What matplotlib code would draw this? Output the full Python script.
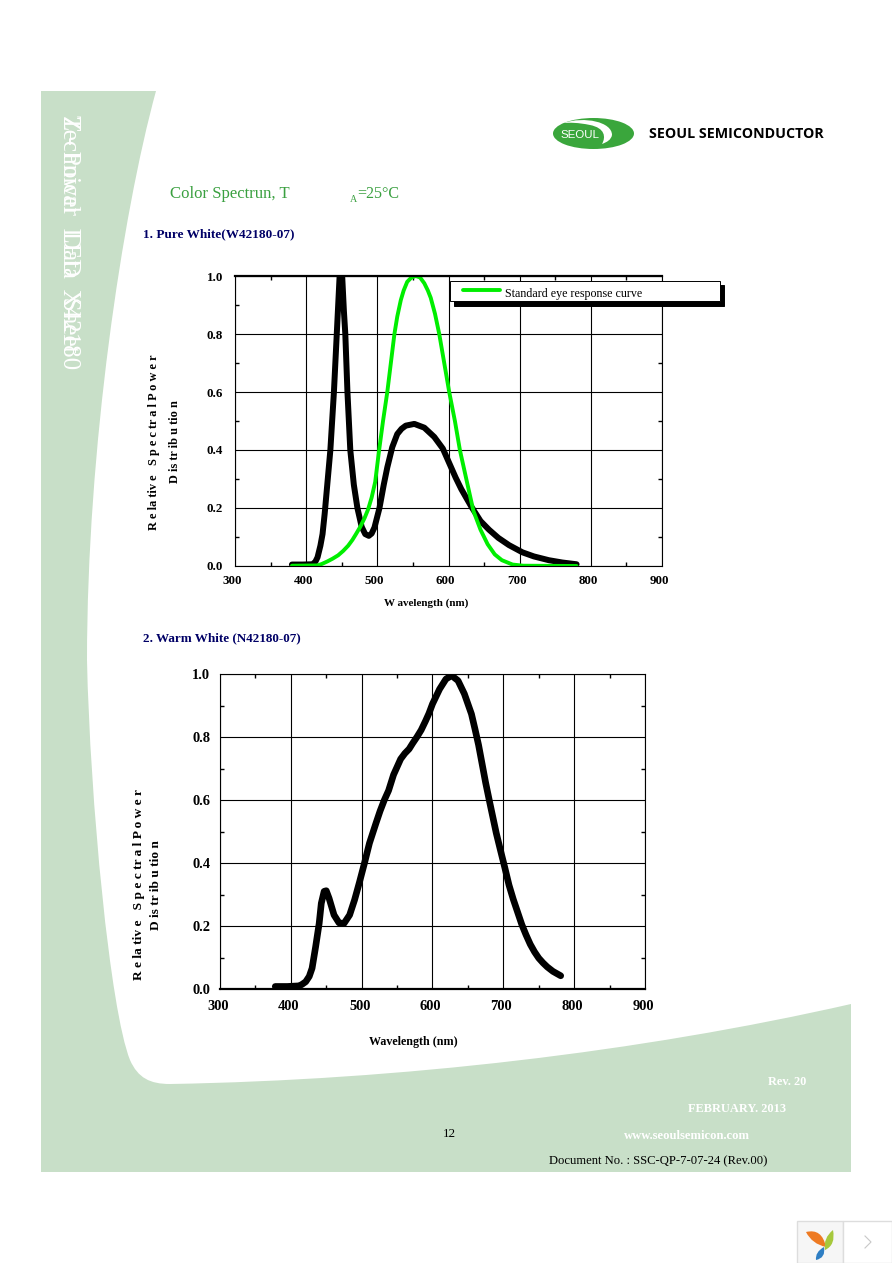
#!/usr/bin/env python3
"""
Recreate the Seoul Semiconductor color spectrum datasheet page
"""

import matplotlib

matplotlib.use("Agg")
import matplotlib.pyplot as plt
from matplotlib.lines import Line2D
from matplotlib.patches import Ellipse, PathPatch, Rectangle
from matplotlib.path import Path
from matplotlib.transforms import ScaledTranslation

W, H = 892, 1263
BAND = "#c8dfc8"
NAVY = "#000066"
SERIF = "Liberation Serif"

x_ticks = [300, 400, 500, 600, 700, 800, 900]
x_minor = [350, 450, 550, 650, 750, 850]
y_ticks = [0.0, 0.2, 0.4, 0.6, 0.8, 1.0]
y_minor = [0.1, 0.3, 0.5, 0.7, 0.9]

# Pure white spectrum
pure_nm = [380, 395, 409, 413, 416, 420, 423, 426, 430, 434, 439, 443, 447, 450, 453,
           455, 458, 462, 467, 472, 478, 483, 488, 492, 496, 503, 509, 514, 521, 528,
           534, 540, 552, 566, 580, 592, 601, 610, 618, 625, 632, 645, 657, 670, 685,
           704, 720, 741, 760, 780]
pure_val = [0.005, 0.005, 0.006, 0.015, 0.03, 0.07, 0.11, 0.18, 0.29, 0.4, 0.6, 0.8,
            1.0, 1.03, 0.88, 0.8, 0.6, 0.4, 0.28, 0.2, 0.135, 0.11, 0.104, 0.112, 0.133,
            0.2, 0.28, 0.34, 0.41, 0.455, 0.473, 0.484, 0.49, 0.477, 0.445, 0.405, 0.355,
            0.305, 0.265, 0.235, 0.205, 0.155, 0.125, 0.097, 0.072, 0.047, 0.033, 0.02,
            0.012, 0.006]

# Standard eye response
eye_nm = [380, 416, 422, 430, 437, 445, 452, 459, 465, 470, 476, 482, 487, 492, 497, 502,
          508, 514, 519, 524, 528, 533, 537, 542, 548, 554, 560, 566, 571, 575, 581, 587,
          594, 601, 609, 616, 625, 635, 645, 655, 665, 675, 690, 705, 780]
eye_val = [0.001, 0.002, 0.007, 0.016, 0.025, 0.037, 0.052, 0.07, 0.09, 0.11, 0.135, 0.165,
           0.195, 0.236, 0.29, 0.39, 0.5, 0.6, 0.7, 0.8, 0.86, 0.917, 0.95, 0.98, 0.995,
           1.0, 0.995, 0.975, 0.95, 0.925, 0.87, 0.8, 0.7, 0.6, 0.5, 0.4, 0.3, 0.19, 0.125,
           0.075, 0.04, 0.02, 0.005, 0.001, 0.0]

# Warm white spectrum
warm_nm = [378, 395, 412, 416, 421, 426, 430, 435, 440, 443, 447, 450, 454, 461, 468, 475,
           483, 490, 497, 504, 511, 520, 526, 532, 538, 545, 550, 555, 561, 567, 572, 578,
           584, 590, 595, 600, 610, 619, 627, 636, 645, 655, 660, 665, 670, 675, 681, 690,
           696, 702, 708, 714, 720, 726, 732, 738, 744, 750, 756, 762, 770, 781]
warm_val = [0.008, 0.008, 0.01, 0.015, 0.023, 0.04, 0.066, 0.134, 0.208, 0.272, 0.31, 0.312,
            0.288, 0.235, 0.21, 0.208, 0.235, 0.283, 0.34, 0.4, 0.463, 0.525, 0.565, 0.6,
            0.63, 0.68, 0.705, 0.73, 0.748, 0.762, 0.78, 0.8, 0.822, 0.85, 0.875, 0.905,
            0.952, 0.984, 0.995, 0.979, 0.937, 0.873, 0.825, 0.775, 0.715, 0.655, 0.59,
            0.495, 0.44, 0.386, 0.33, 0.285, 0.245, 0.205, 0.172, 0.142, 0.118, 0.098,
            0.083, 0.07, 0.056, 0.042]

fig = plt.figure(figsize=(W / 100, H / 100), dpi=100, facecolor="white")
plt.rcParams["font.family"] = SERIF


def px(size):
    """Pixel height to points"""
    return size * 0.72


def add_chart(left, right, top, bottom, label_size, xpad, ypad, xshift):
    """Axes placed by pixel box with the inward ticks and grid of the page"""
    ax = fig.add_axes([left / W, 1 - bottom / H, (right - left) / W, (bottom - top) / H])
    ax.set_xlim(300, 900)
    ax.set_ylim(0, 1)
    ax.set_xticks(x_ticks)
    ax.set_xticks(x_minor, minor=True)
    ax.set_yticks(y_ticks)
    ax.set_yticks(y_minor, minor=True)
    ax.set_xticklabels([str(v) for v in x_ticks], fontweight="bold", fontsize=px(label_size))
    ax.set_yticklabels([f"{v:.1f}" for v in y_ticks], fontweight="bold", fontsize=px(label_size))
    ax.tick_params(which="major", direction="in", length=0, top=True, right=True)
    ax.tick_params(axis="x", which="major", pad=xpad)
    ax.tick_params(axis="y", which="major", pad=ypad)
    ax.tick_params(which="minor", direction="in", length=3, width=1, top=True, right=True)
    ax.grid(True, which="major", color="black", linewidth=0.8)
    ax.set_axisbelow(True)
    ax.patch.set_alpha(0)
    for spine in ax.spines.values():
        spine.set_linewidth(0.8)
    # labels sit a little left of their ticks
    shift = ScaledTranslation(xshift / 100, 0, fig.dpi_scale_trans)
    for label in ax.get_xticklabels():
        label.set_transform(label.get_transform() + shift)
    return ax


# Page decoration, in pixel coordinates
page = fig.add_axes([0, 0, 1, 1], zorder=-1)
page.set_xlim(0, W)
page.set_ylim(H, 0)
page.axis("off")

band_path = Path(
    [(41, 91), (156, 91),
     (122, 215), (87, 450), (87, 660),
     (90, 800), (110, 1010), (130, 1060),
     (138, 1078), (150, 1084), (170, 1084),
     (400, 1080), (640, 1052), (851, 1004),
     (851, 1172), (41, 1172), (41, 91)],
    [Path.MOVETO, Path.LINETO,
     Path.CURVE4, Path.CURVE4, Path.CURVE4,
     Path.CURVE4, Path.CURVE4, Path.CURVE4,
     Path.CURVE4, Path.CURVE4, Path.CURVE4,
     Path.CURVE4, Path.CURVE4, Path.CURVE4,
     Path.LINETO, Path.LINETO, Path.CLOSEPOLY],
)
page.add_patch(PathPatch(band_path, facecolor=BAND, edgecolor="none"))

# Sidebar text, two strings printed over each other in the source
page.text(69, 115, "Z - Power  LED  X42180", color="white", fontsize=px(25), rotation=270,
          ha="center", va="top")
page.text(69, 115, "Technical   Data   Sheet", color="white", fontsize=px(25), rotation=270,
          ha="center", va="top")

# Logo
page.add_patch(Ellipse((593.5, 133.5), 81, 31, facecolor="#3aa63c", edgecolor="none"))
swoosh = Path(
    [(563, 123), (585, 116), (612, 122), (612, 135), (611, 140), (607, 142), (602, 144),
     (606, 137), (605, 128), (590, 125), (578, 122.5), (570, 122.5), (563, 123)],
    [Path.MOVETO] + [Path.CURVE4] * 12,
)
page.add_patch(PathPatch(swoosh, facecolor="white", edgecolor="none"))
page.text(580, 135.5, "SEOUL", color="white", fontsize=px(11.5), family="Liberation Sans",
          ha="center", va="center")
page.text(736.5, 134, "SEOUL SEMICONDUCTOR", color="black", fontsize=px(14.3), fontweight="bold",
          family="Open Sans", ha="center", va="center")

# Headings
page.text(170, 194, "Color Spectrun, T", color="#3aa040", fontsize=px(16.7), ha="left", va="center")
page.text(350, 199, "A", color="#3aa040", fontsize=px(10), ha="left", va="center")
page.text(357, 194, "=25°C", color="#3aa040", fontsize=px(16), ha="left", va="center")
page.text(143, 234, "1. Pure White(W42180-07)", color=NAVY, fontsize=px(13.3), fontweight="bold",
          ha="left", va="center")
page.text(143, 638, "2. Warm White (N42180-07)", color=NAVY, fontsize=px(13.1), fontweight="bold",
          ha="left", va="center")

# Footer
page.text(806, 1082, "Rev. 20", color="white", fontsize=px(12.2), fontweight="bold", ha="right", va="center")
page.text(786, 1109, "FEBRUARY. 2013", color="white", fontsize=px(12.4), fontweight="bold", ha="right", va="center")
page.text(750, 1136, "www.seoulsemicon.com", color="white", fontsize=px(12.6), fontweight="bold",
          ha="right", va="center")
page.text(449, 1134, "12", color="black", fontsize=px(13), ha="center", va="center")
page.text(767, 1161, "Document No. : SSC-QP-7-07-24 (Rev.00)", color="black", fontsize=px(12.6),
          ha="right", va="center")

# Corner widget
page.add_patch(Rectangle((796.5, 1221), 46, 42, facecolor="#f6f6f6", edgecolor="#dddddd", linewidth=1))
page.add_patch(Rectangle((842.5, 1221), 49, 42, facecolor="white", edgecolor="#dddddd", linewidth=1))
codes = [Path.MOVETO, Path.CURVE3, Path.CURVE3, Path.CURVE3, Path.CURVE3]
page.add_patch(PathPatch(Path([(806, 1232), (822, 1228), (826, 1247), (812, 1244), (806, 1232)], codes),
                         facecolor="#ee7a22", edgecolor="none"))
page.add_patch(PathPatch(Path([(833, 1230), (836, 1245), (825, 1250), (823, 1238), (833, 1230)], codes),
                         facecolor="#a6c83c", edgecolor="none"))
page.add_patch(PathPatch(Path([(824, 1247), (826, 1258), (816, 1260), (815, 1252), (824, 1247)], codes),
                         facecolor="#2f7fc4", edgecolor="none"))
page.plot([865, 871, 865], [1236, 1242, 1248], color="#c8c8c8", linewidth=0.8)

# Chart 1
ax1 = add_chart(235, 662, 276, 566, 13, 6.5, 8.6, -3)
ax1.plot(pure_nm, pure_val, color="black", linewidth=4.3, solid_capstyle="round", solid_joinstyle="round")
ax1.plot(eye_nm, eye_val, color="#00ee00", linewidth=2.8, solid_capstyle="round", solid_joinstyle="round")
ax1.spines["top"].set_linewidth(1.6)
ax1.set_xlabel("W avelength (nm)", fontweight="bold", fontsize=px(11))
ax1.xaxis.set_label_coords((426 - 235) / 427, -(603 - 566) / 290, transform=ax1.transAxes)
ax1.xaxis.label.set_va("center")
ax1.set_ylabel("R e la tiv e   S p e c tr a l P o w e r\nD is tr ib u tio n", fontweight="bold",
               fontsize=px(12.3), linespacing=2.0)
ax1.yaxis.set_label_coords((164.5 - 235) / 427, (566 - 442) / 290, transform=ax1.transAxes)
ax1.yaxis.label.set_va("center")

legend_box = (450 / W, 1 - 303 / H, 270 / W, 22 / H)
leg = ax1.legend(
    handles=[Line2D([], [], color="#00ee00", linewidth=2.8, solid_capstyle="round")],
    labels=["Standard eye response curve"],
    loc="upper left",
    bbox_to_anchor=legend_box,
    bbox_transform=fig.transFigure,
    mode="expand",
    fontsize=px(12),
    frameon=True,
    fancybox=False,
    framealpha=1,
    edgecolor="black",
    borderaxespad=0,
    borderpad=0.35,
    handlelength=3.7,
    handletextpad=0.5,
    shadow={"ox": 3, "oy": -3, "alpha": 1, "facecolor": "black", "edgecolor": "black"},
)
leg.get_frame().set_linewidth(0.7)
handle = leg.get_lines()[0]
handle_y = handle.get_ydata()[0]
handle.set_data([6.5, 33], [handle_y, handle_y])
leg.get_texts()[0].set_position((0, -3))

# Chart 2
ax2 = add_chart(220, 645, 674, 989, 14.5, 8, 7, -2)
ax2.plot(warm_nm, warm_val, color="black", linewidth=4.8, solid_capstyle="round", solid_joinstyle="round")
ax2.spines["bottom"].set_linewidth(1.6)
ax2.set_xlabel("Wavelength (nm)", fontweight="bold", fontsize=px(12))
ax2.xaxis.set_label_coords((413 - 220) / 425, -(1042 - 989) / 315, transform=ax2.transAxes)
ax2.xaxis.label.set_va("center")
ax2.set_ylabel("R e la tiv e   S p e c tr a l P o w e r\nD is tr ib u tio n", fontweight="bold",
               fontsize=px(13.4), linespacing=1.65)
ax2.yaxis.set_label_coords((147.5 - 220) / 425, (989 - 885) / 315, transform=ax2.transAxes)
ax2.yaxis.label.set_va("center")

plt.savefig("out.png", dpi=100)
plt.close()
